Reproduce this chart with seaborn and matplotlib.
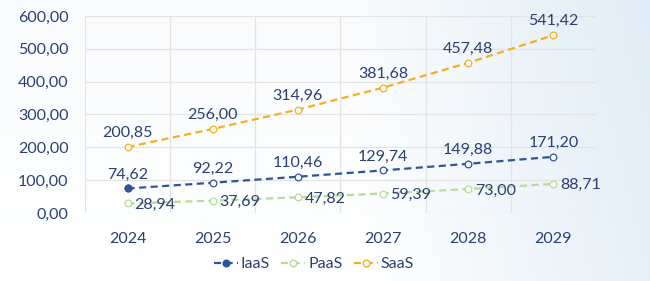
import numpy as np
import pandas as pd
import matplotlib
matplotlib.use("Agg")
import matplotlib.pyplot as plt
import seaborn as sns
from matplotlib.lines import Line2D
from matplotlib.colors import LinearSegmentedColormap

years = ["2024", "2025", "2026", "2027", "2028", "2029"]
iaas = [74.62, 92.22, 110.46, 129.74, 149.88, 171.20]
paas = [28.94, 37.69, 47.82, 59.39, 73.00, 88.71]
saas = [200.85, 256.00, 314.96, 381.68, 457.48, 541.42]
series_names = ["IaaS", "PaaS", "SaaS"]
yticks = [0, 100, 200, 300, 400, 500, 600]

sns.set_theme(style="white")
plt.rcParams['font.family'] = ['Lato', 'DejaVu Sans']

df = pd.DataFrame({"year": years * 3,
                   "value": iaas + paas + saas,
                   "series": sum([[n] * len(years) for n in series_names], [])})

colors = {"IaaS": "#2F5597", "PaaS": "#B7DB9A", "SaaS": "#F2B01E"}
text_c = "#2B3F73"
fs = 11.5

fig = plt.figure(figsize=(6.5, 2.81), dpi=100)
# subtle background gradient
bg = fig.add_axes([0, 0, 1, 1], zorder=-10)
gx = np.linspace(0, 1, 300)
gy = np.linspace(0, 1, 130)
X, Y = np.meshgrid(gx, gy)
val = np.clip((X - 0.55) / 0.45, 0, 1) * 0.6 + (1 - Y) * 0.15
cm = LinearSegmentedColormap.from_list("bgc", ["#FFFFFF", "#D6E6F2"])
bg.imshow(val, cmap=cm, aspect="auto", extent=[0, 1, 0, 1], vmin=0, vmax=1)
bg.axis("off")

ax = fig.add_axes([85 / 650, 1 - 213 / 281, (596 - 85) / 650, (213 - 16) / 281])
ax.set_facecolor("none")

dash = (0, (3.2, 2))
for name in series_names:
    sub = df[df.series == name]
    sns.lineplot(data=sub, x="year", y="value", ax=ax, color=colors[name],
                 linestyle=dash, linewidth=1.6, marker="o", markersize=4.8,
                 markerfacecolor="white", markeredgecolor=colors[name],
                 markeredgewidth=0.9, sort=False, legend=False)

# first IaaS point filled
ax.plot([0], [iaas[0]], marker="o", markersize=4.8, color=colors["IaaS"], zorder=5)

for i, v in enumerate(iaas):
    ax.annotate(f"{v:.2f}".replace(".", ","), (i, v), xytext=(0, 5),
                textcoords="offset points", ha="center", va="bottom",
                color=text_c, fontsize=fs)
for i, v in enumerate(saas):
    ax.annotate(f"{v:.2f}".replace(".", ","), (i, v), xytext=(0, 5),
                textcoords="offset points", ha="center", va="bottom",
                color=text_c, fontsize=fs)
for i, v in enumerate(paas):
    ax.annotate(f"{v:.2f}".replace(".", ","), (i, v), xytext=(5, -1),
                textcoords="offset points", ha="left", va="center",
                color=text_c, fontsize=fs)

ax.set_xlim(-0.5, len(years) - 0.5)
ax.set_ylim(0, 600)
ax.set_yticks(yticks)
ax.set_yticklabels([f"{t:.2f}".replace(".", ",") for t in yticks])
ax.set_xticks(range(len(years)))
ax.set_xticklabels(years)
ax.set_xticks(np.arange(-0.5, len(years), 1), minor=True)
ax.grid(False)
ax.yaxis.grid(True, color="#E3E3E3", linewidth=0.9)
ax.xaxis.grid(True, which="minor", color="#E3E3E3", linewidth=0.9)
ax.tick_params(axis="both", which="both", length=0, colors=text_c, labelsize=fs)
ax.tick_params(axis="y", pad=12)
ax.tick_params(axis="x", pad=14)
for s in ax.spines.values():
    s.set_visible(False)
ax.set_xlabel("")
ax.set_ylabel("")

handles = []
for name in series_names:
    fc = colors[name] if name == "IaaS" else "white"
    handles.append(Line2D([0], [0], color=colors[name], linestyle=dash,
                          linewidth=1.6, marker="o", markersize=4.8,
                          markerfacecolor=fc, markeredgecolor=colors[name]))
leg = fig.legend(handles, series_names, loc="center", bbox_to_anchor=(314 / 650, 1 - 264 / 281),
                 ncol=3, frameon=False, fontsize=fs, handlelength=1.5,
                 handletextpad=0.2, columnspacing=0.7)
for t in leg.get_texts():
    t.set_color(text_c)

fig.savefig("out.png", dpi=100)
